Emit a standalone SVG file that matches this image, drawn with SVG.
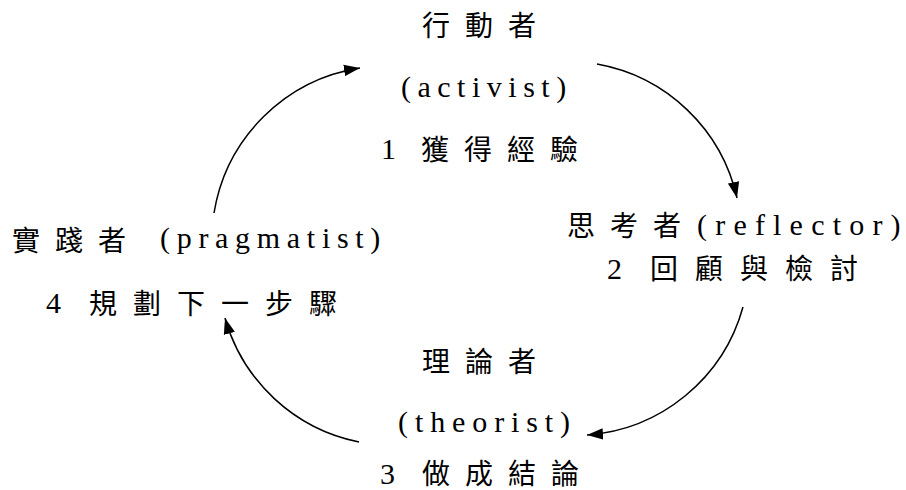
<svg xmlns="http://www.w3.org/2000/svg" width="906" height="490" viewBox="0 0 906 490">
<style>
text{font-family:"Liberation Serif","Noto Sans CJK TC",serif;font-size:28px;fill:#000}
.lt{font-size:30px}
.cj{letter-spacing:15px}
.z{letter-spacing:0}
.conn path{fill:none;stroke:#000;stroke-width:1.5}
</style>
<defs>
<marker id="ah" markerUnits="userSpaceOnUse" markerWidth="16" markerHeight="12" refX="14" refY="5" orient="auto" viewBox="0 0 14 10">
<path d="M0,0 L14,5 L0,10 z" fill="#000"/>
</marker>
</defs>
<rect width="906" height="490" fill="#fff"/>
<g id="activist">
<text class="cj" x="422" y="36">行動者</text>
<text class="lt" x="401" y="97" style="letter-spacing:6.5px">(activist<tspan class="z">)</tspan></text>
<text class="lt" x="381" y="159">1</text>
<text class="cj" x="421" y="160">獲得經驗</text>
</g>
<g id="reflector">
<text class="cj" x="567" y="236">思考者</text>
<text class="lt" x="697" y="235" style="letter-spacing:8.2px">(reflector<tspan class="z">)</tspan></text>
<text class="lt" x="607" y="279">2</text>
<text x="650" y="279" style="letter-spacing:17px">回顧與檢討</text>
</g>
<g id="theorist">
<text class="cj" x="422" y="372">理論者</text>
<text class="lt" x="398" y="432" style="letter-spacing:6.9px">(theorist<tspan class="z">)</tspan></text>
<text class="lt" x="380" y="484">3</text>
<text class="cj" x="422" y="484">做成結論</text>
</g>
<g id="pragmatist">
<text class="cj" x="12" y="251">實踐者</text>
<text class="lt" x="160" y="248" style="letter-spacing:6.7px">(pragmatist<tspan class="z">)</tspan></text>
<text class="lt" x="46" y="313">4</text>
<text class="cj" x="89" y="314" style="letter-spacing:16px">規劃下一步驟</text>
</g>
<g class="conn" id="connectors">
<path d="M214,213 A175,175 0 0,1 360,68" marker-end="url(#ah)"/>
<path d="M597,64 A175,175 0 0,1 737,198" marker-end="url(#ah)"/>
<path d="M743,307 A175,175 0 0,1 587,435" marker-end="url(#ah)"/>
<path d="M359,442 A175,175 0 0,1 225,318" marker-end="url(#ah)"/>
</g>
</svg>
